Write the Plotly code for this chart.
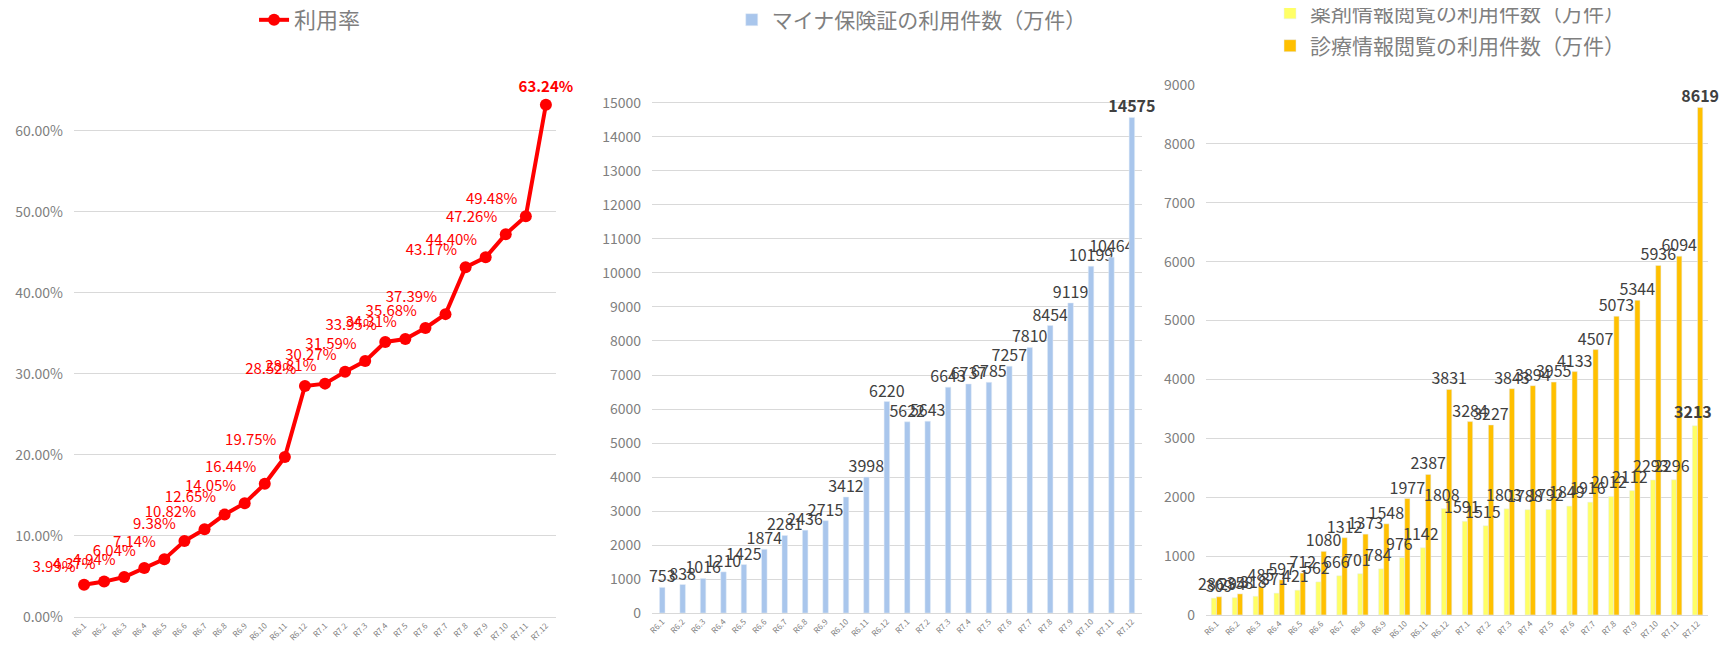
import plotly.graph_objects as go

months = ["R6.1", "R6.2", "R6.3", "R6.4", "R6.5", "R6.6", "R6.7", "R6.8", "R6.9", "R6.10", "R6.11", "R6.12",
          "R7.1", "R7.2", "R7.3", "R7.4", "R7.5", "R7.6", "R7.7", "R7.8", "R7.9", "R7.10", "R7.11", "R7.12"]

# 利用率 (%)
usage_rate = [3.99, 4.37, 4.94, 6.04, 7.14, 9.38, 10.82, 12.65, 14.05, 16.44, 19.75, 28.52,
              28.81, 30.27, 31.59, 33.95, 34.31, 35.68, 37.39, 43.17, 44.40, 47.26, 49.48, 63.24]

# マイナ保険証の利用件数（万件）
mynacard_uses = [753, 838, 1016, 1210, 1425, 1874, 2281, 2436, 2715, 3412, 3998, 6220,
                 5622, 5643, 6643, 6737, 6785, 7257, 7810, 8454, 9119, 10199, 10464, 14575]

# 薬剤情報閲覧 / 診療情報閲覧の利用件数（万件）
drug_info = [286, 294, 318, 371, 421, 562, 666, 701, 784, 976, 1142, 1808,
             1591, 1515, 1803, 1788, 1792, 1849, 1916, 2012, 2112, 2293, 2296, 3213]
medical_info = [309, 358, 485, 597, 712, 1080, 1312, 1373, 1548, 1977, 2387, 3831,
                3284, 3227, 3843, 3894, 3955, 4133, 4507, 5073, 5344, 5936, 6094, 8619]

FONT = "Noto Sans CJK JP, Noto Sans, sans-serif"
GRID = "#D9D9D9"
TICK = "#7F7F7F"
LABEL = "#404040"


def bold_last(vals, fmt):
    out = [fmt.format(v) for v in vals]
    out[-1] = "<b>" + out[-1] + "</b>"
    return out


fig = go.Figure()

# panel 1: line
fig.add_trace(go.Scatter(
    x=months, y=[v / 100 for v in usage_rate], name="利用率",
    mode="lines+markers+text",
    line=dict(color="#FF0000", width=4),
    marker=dict(color="#FF0000", size=12),
    text=bold_last(usage_rate, "{:.2f}%"),
    textposition=["top left"] * 23 + ["top center"],
    textfont=dict(color="#FF0000", size=15),
    cliponaxis=False, showlegend=True,
    xaxis="x", yaxis="y", legend="legend",
))

# panel 2: bars
fig.add_trace(go.Bar(
    x=months, y=mynacard_uses, name="マイナ保険証の利用件数（万件）",
    marker_color="#A9C6EC", width=0.27,
    text=bold_last(mynacard_uses, "{}"), textposition="outside", constraintext="none",
    textfont=dict(color=LABEL, size=16), cliponaxis=False, showlegend=True,
    xaxis="x2", yaxis="y2", legend="legend2",
))

# panel 3: grouped bars (yellow labels go in annotations so the orange bars don't cover them)
fig.add_trace(go.Bar(
    x=months, y=drug_info, name="薬剤情報閲覧の利用件数（万件）",
    marker_color="#FFFF66", showlegend=True,
    xaxis="x3", yaxis="y3", legend="legend3",
))
fig.add_trace(go.Bar(
    x=months, y=medical_info, name="診療情報閲覧の利用件数（万件）",
    marker_color="#FFC000",
    text=bold_last(medical_info, "{}"), textposition="outside", constraintext="none",
    textfont=dict(color=LABEL, size=16), cliponaxis=False, showlegend=True,
    xaxis="x3", yaxis="y3", legend="legend4",
))

for m, v, t in zip(months, drug_info, bold_last(drug_info, "{}")):
    fig.add_annotation(x=m, y=v, xref="x3", yref="y3", text=t, showarrow=False,
                       yanchor="bottom", xshift=-5, yshift=1,
                       font=dict(color=LABEL, size=16))

xcommon = dict(tickangle=-45, tickfont=dict(size=8, color=TICK), showgrid=False,
               showline=True, linecolor=GRID, ticks="", type="category",
               range=[-0.5, len(months) - 0.5])
ycommon = dict(showgrid=True, gridcolor=GRID, gridwidth=1, zeroline=False,
               ticks="", showline=False, ticklabelstandoff=10,
               tickfont=dict(size=14, color=TICK))

legend_style = dict(xanchor="center", yanchor="middle", bgcolor="rgba(0,0,0,0)",
                    itemwidth=30)

# the page body adds an 8px offset, so domains are shifted up/left by 8px
fig.update_layout(
    width=1728, height=650,
    margin=dict(l=0, r=0, t=0, b=0, autoexpand=False),
    paper_bgcolor="white", plot_bgcolor="white",
    font=dict(family=FONT, color=TICK),
    showlegend=True,
    barmode="group", bargap=0.5, bargroupgap=0.0,
    xaxis=dict(domain=[0.0382, 0.3171], anchor="y", **xcommon),
    yaxis=dict(domain=[0.0631, 0.9354], anchor="x", range=[0, 0.70],
               tickvals=[0, 0.1, 0.2, 0.3, 0.4, 0.5, 0.6], tickformat=".2%", **ycommon),
    xaxis2=dict(domain=[0.3727, 0.6563], anchor="y2", **xcommon),
    yaxis2=dict(domain=[0.0692, 0.9062], anchor="x2", range=[0, 16000], tickformat="d",
                tickvals=list(range(0, 16000, 1000)), **ycommon),
    xaxis3=dict(domain=[0.6933, 0.9838], anchor="y3", **xcommon),
    yaxis3=dict(domain=[0.0662, 0.8815], anchor="x3", range=[0, 9000], tickformat="d",
                tickvals=list(range(0, 10000, 1000)), **ycommon),
    legend=dict(x=0.1748, y=0.9815, font=dict(size=22, color=TICK), **legend_style),
    legend2=dict(x=0.523, y=0.9815, font=dict(size=21, color=TICK), **legend_style),
    legend3=dict(x=0.8345, y=0.992, font=dict(size=21, color=TICK), **legend_style),
    legend4=dict(x=0.8345, y=0.9415, font=dict(size=21, color=TICK), **legend_style),
)

fig.write_html("out.html")
